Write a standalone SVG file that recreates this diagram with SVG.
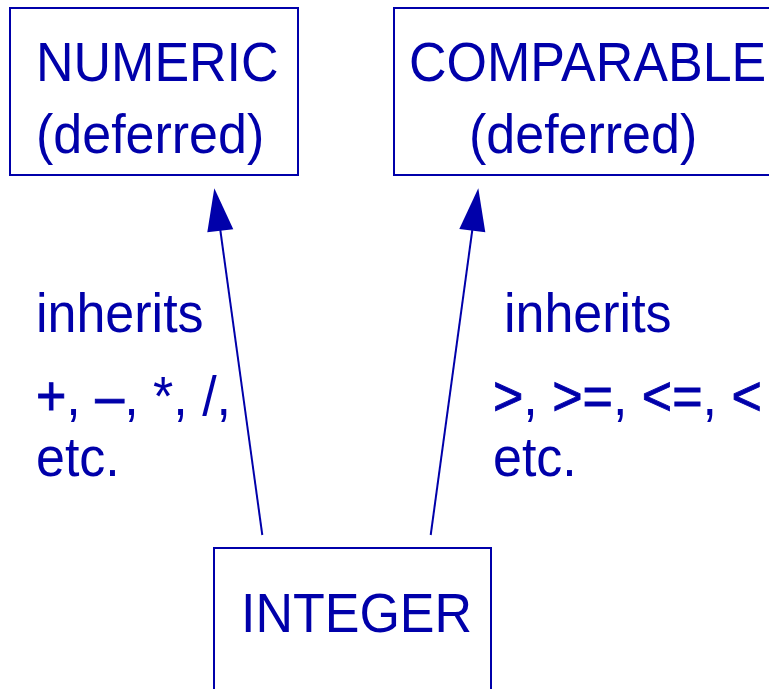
<svg xmlns="http://www.w3.org/2000/svg" width="769" height="689" viewBox="0 0 769 689">
<style>
.box{fill:none;stroke:#0000AA;stroke-width:2}
.t{font-family:"Liberation Sans",Arial,sans-serif;font-size:52px;fill:#0000AA}
.op{stroke:#0000AA;stroke-width:0.8}
.edge{stroke:#0000AA;stroke-width:2;fill:none}
.head{fill:#0000AA;stroke:none}
</style>
<rect width="769" height="689" fill="#ffffff"/>
<g id="numeric">
<rect class="box" x="10" y="8" width="288" height="167"/>
<text class="t" transform="translate(36,81) scale(1,1.05)">NUMERIC</text>
<text class="t" transform="translate(36,153) scale(1,1.05)">(deferred)</text>
</g>
<g id="comparable">
<rect class="box" x="394" y="8" width="420" height="167"/>
<text class="t" transform="translate(409,81) scale(1,1.05)">COMPARABLE</text>
<text class="t" transform="translate(469,153) scale(1,1.05)">(deferred)</text>
</g>
<g id="integer">
<rect class="box" x="214" y="548" width="277" height="200"/>
<text class="t" transform="translate(241,632) scale(1,1.05)">INTEGER</text>
</g>
<g id="connectors">
<line class="edge" x1="262.3" y1="535" x2="220.3" y2="230"/>
<polygon class="head" points="214.3,188.3 207.3,232.3 233.3,229.3"/>
<line class="edge" x1="430.7" y1="535" x2="472.3" y2="230"/>
<polygon class="head" points="478.3,188.3 459.3,229 485.3,232.3"/>
</g>
<g id="labels">
<text class="t" transform="translate(36,332) scale(1,1.05)">inherits</text>
<text class="t" transform="translate(36,415) scale(1,1.05)"><tspan class="op">+</tspan>, <tspan class="op">–</tspan>, *, /,</text>
<text class="t" transform="translate(36,476) scale(1,1.05)">etc.</text>
<text class="t" transform="translate(504,332) scale(1,1.05)">inherits</text>
<text class="t" transform="translate(493,415) scale(1,1.05)"><tspan class="op">&gt;</tspan>, <tspan class="op">&gt;=</tspan>, <tspan class="op">&lt;=</tspan>, <tspan class="op">&lt;</tspan></text>
<text class="t" transform="translate(493,476) scale(1,1.05)">etc.</text>
</g>
</svg>
